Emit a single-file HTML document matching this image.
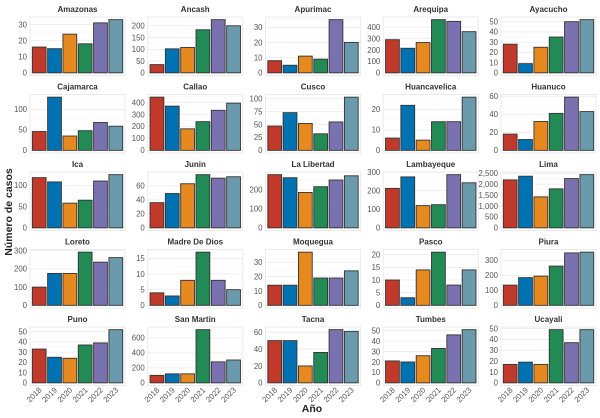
<!DOCTYPE html>
<html><head><meta charset="utf-8"><style>
html,body{margin:0;padding:0;background:#fff;}
svg{display:block;font-family:"Liberation Sans",sans-serif;}
</style></head><body>
<svg id="chart" width="600" height="418" viewBox="0 0 600 418" xmlns="http://www.w3.org/2000/svg">
<text x="0" y="0" transform="translate(12,212) rotate(-90)" text-anchor="middle" font-size="10.5" font-weight="bold" fill="#222">Número de casos</text>
<text x="312" y="412" text-anchor="middle" font-size="10.5" font-weight="bold" fill="#222">Año</text>
</svg>
<script>
const years = ["2018","2019","2020","2021","2022","2023"];
const regions = ["Amazonas","Ancash","Apurimac","Arequipa","Ayacucho","Cajamarca","Callao","Cusco","Huancavelica","Huanuco","Ica","Junin","La Libertad","Lambayeque","Lima","Loreto","Madre De Dios","Moquegua","Pasco","Piura","Puno","San Martin","Tacna","Tumbes","Ucayali"];
const cases = [
[16,15,24,18,31,33],
[35,102,108,183,226,200],
[8,5,11,9,35,20],
[290,215,265,465,450,360],
[28,9,25,35,50,52],
[46,130,35,48,68,59],
[445,370,180,240,335,395],
[47,73,52,32,55,103],
[6,22,5,14,14,26],
[18,12,32,41,59,43],
[118,108,58,65,110,125],
[36,49,63,76,71,73],
[278,262,185,215,250,272],
[213,275,120,125,287,243],
[2200,2370,1420,1790,2260,2440],
[100,175,175,292,237,262],
[4,3,8,17,8,5],
[14,14,37,19,19,24],
[10,3,14,21,8,14],
[135,185,195,262,350,355],
[33,25,24,37,39,52],
[100,120,120,710,280,305],
[50,50,20,36,63,61],
[21,20,26,33,46,51],
[17,19,17,49,37,49]
];
const tickSteps = [10,50,10,100,10,50,100,25,10,20,50,20,100,100,500,100,5,10,5,100,10,200,20,10,10];
const colors = ["#C0392B","#0072B2","#E6891F","#218A55","#7A72B0","#6B9AAD"];

const NS = "http://www.w3.org/2000/svg";
const svg = document.getElementById('chart');
function mk(tag, attrs, parent){const e=document.createElementNS(NS,tag);for(const k in attrs)e.setAttribute(k,attrs[k]);(parent||svg).appendChild(e);return e;}
const x0=30, colPitch=117.75, pw=95, y0=17, rowPitch=77.5, ph=58.5;
function fmt(v){return v.toLocaleString('en-US');}

regions.forEach((name,i)=>{
  const c=i%5, r=Math.floor(i/5);
  const px=x0+c*colPitch, py=y0+r*rowPitch;
  const g=mk('g',{});
  
  
  const vals=cases[i];
  const mx=Math.max(...vals);
  const lo=-0.05*mx, hi=1.05*mx;
  const ys=v=>py+ph-(v-lo)/(hi-lo)*ph;
  const xs=k=>px+(k+1-0.4)*(pw/6.2);
  const bg=mk('rect',{x:px,y:py,width:pw,height:ph,fill:'#fff',stroke:'#ebebeb','stroke-width':1},g);
  
  
  const step=tickSteps[i];
  for(let t=0;t<=hi;t+=step/2){
    const y=ys(t);
    const major=Math.abs((t/step)-Math.round(t/step))<1e-9;
    const gl=mk('line',{x1:px,x2:px+pw,y1:y,y2:y,stroke:major?'#ebebeb':'#f5f5f5','stroke-width':major?0.8:0.5},g);
    
    
    if(major){
      const tl=mk('text',{x:px-3,y:y+2.8,'text-anchor':'end','font-size':7.8,fill:'#555'},g);
      
      
      tl.textContent=fmt(t);
    }
  }
  const bw=0.9*pw/6.2;
  vals.forEach((v,k)=>{
    const b=mk('rect',{x:xs(k)-bw/2,y:ys(v),width:bw,height:ys(0)-ys(v),fill:colors[k],stroke:'#333','stroke-width':0.9},g);
    
    
  });
  const tt=mk('text',{x:px+pw/2,y:py-5,'text-anchor':'middle','font-size':8,'font-weight':'bold',fill:'#333'},g);
  
  
  tt.textContent=name;
  if(r===4){
    years.forEach((yr,k)=>{
      const xl=mk('text',{x:0,y:0,'text-anchor':'end','font-size':7.8,fill:'#555',transform:`translate(${xs(k)+3},${py+ph+5}) rotate(-45)`},g);
      
      
      xl.textContent=yr;
    });
  }
});
</script>
</body></html>
